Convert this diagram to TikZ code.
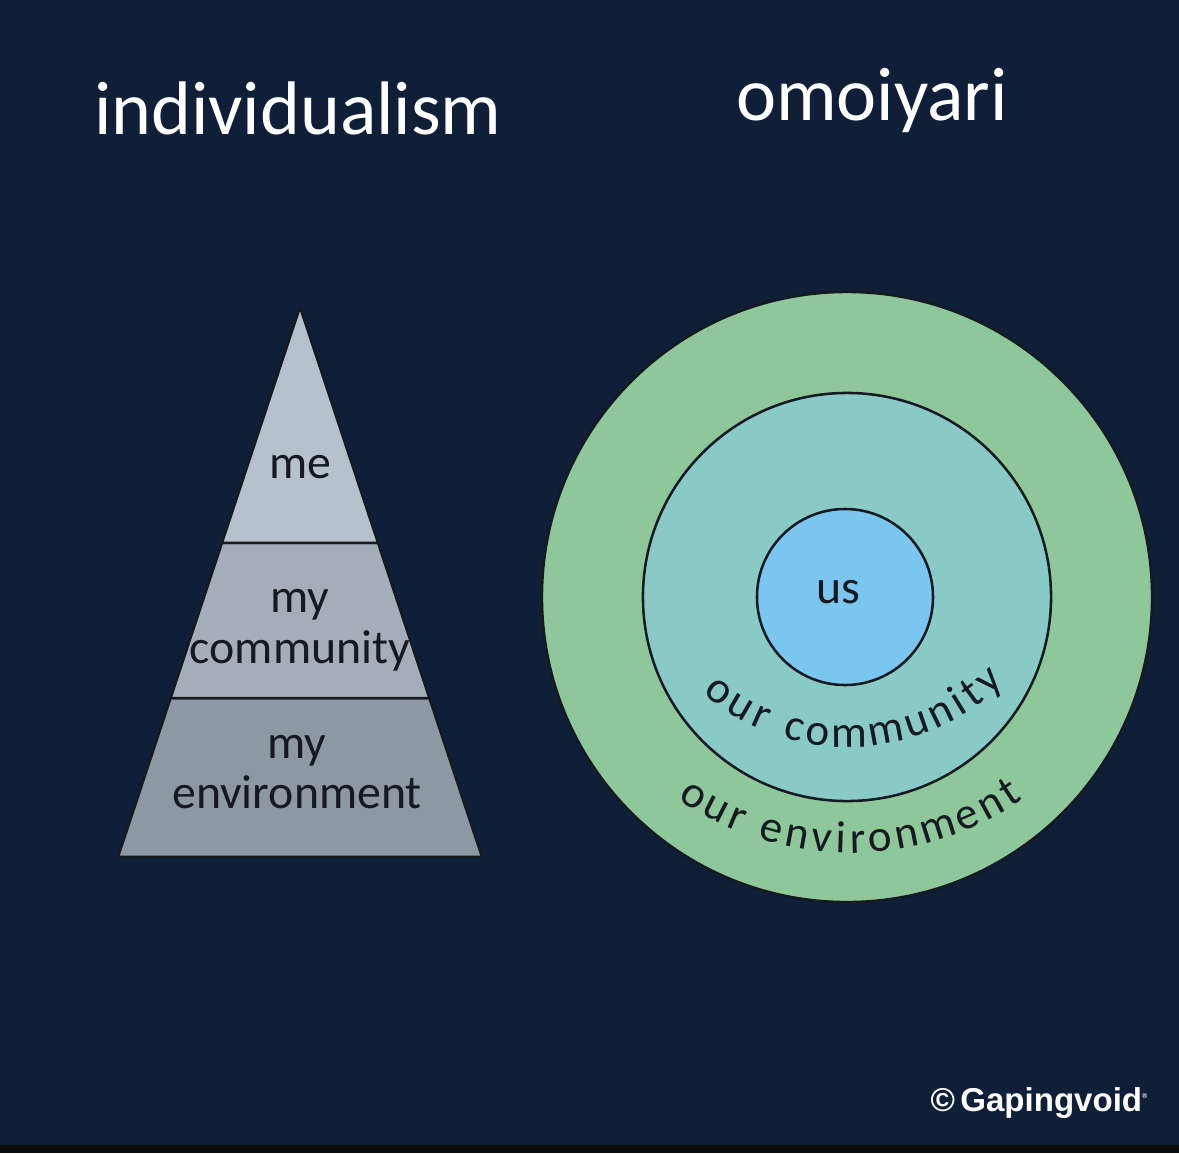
\documentclass[tikz,border=0pt]{standalone}
\usepackage{fontspec}
\setmainfont{Carlito}
\newfontfamily\logofont{Liberation Sans}
\usetikzlibrary{calc}
\definecolor{bgcol}{HTML}{0F1F38}
\definecolor{inkcol}{HTML}{151A22}
\definecolor{tiertop}{HTML}{B5C2CD}
\definecolor{tiermid}{HTML}{A3AEBA}
\definecolor{tierbot}{HTML}{8D98A5}
\definecolor{ringout}{HTML}{8EC89A}
\definecolor{ringmid}{HTML}{89CAC7}
\definecolor{ringin}{HTML}{7BC6EE}

\begin{document}
\begin{tikzpicture}[
  x=0.025cm, y=0.025cm,
  title/.style={text=white,font=\fontsize{54}{58}\selectfont},
  hand/.style={text=inkcol,align=center,font=\fontsize{34}{36}\selectfont},
  tier/.style={draw=inkcol,line width=1.8pt,line join=round},
  ring/.style={circle,draw=inkcol,line width=1.8pt,inner sep=0pt},
  arcchar/.style={text=inkcol,anchor=base,inner sep=0pt,
                  font=\fontsize{32}{36}\selectfont},
]
% page and background
\useasboundingbox (0,0) rectangle (1179,-1153);
\fill[bgcol] (0,0) rectangle (1179,-1153);
\fill[black!95] (0,-1145) rectangle (1179,-1153);

% titles
\node[title] (indiv) at (298,-108) {individualism};
\node[title] (omoi)  at (872,-100) {omoiyari};

% pyramid
\coordinate (apex)  at (300,-307);
\coordinate (baseL) at (118,-857);
\coordinate (baseR) at (482,-857);
\coordinate (cutAL) at ($(apex)!0.429!(baseL)$);
\coordinate (cutAR) at ($(apex)!0.429!(baseR)$);
\coordinate (cutBL) at ($(apex)!0.711!(baseL)$);
\coordinate (cutBR) at ($(apex)!0.711!(baseR)$);

\draw[tier,fill=tierbot] (cutBL) -- (cutBR) -- (baseR) -- (baseL) -- cycle;
\draw[tier,fill=tiermid] (cutAL) -- (cutAR) -- (cutBR) -- (cutBL) -- cycle;
\draw[tier,fill=tiertop] (apex) -- (cutAR) -- (cutAL) -- cycle;

\node[hand] (me)     at (300,-467) {me};
\node[hand] (mycomm) at (300,-630) {my\\community};
\node[hand] (myenv)  at (297,-772) {my\\environment};

% circles
\node[ring,fill=ringout,minimum size=15.25cm] (outer) at (847,-597) {};
\node[ring,fill=ringmid,minimum size=10.2cm]  (mid)   at (847,-597) {};
\node[ring,fill=ringin,minimum size=4.4cm]    (inner) at (845,-597) {};

\node[hand] (us) at (838,-592) {us};

% the hand lettering bends on flatter arcs than the rings
\coordinate (commarc) at (848,-524);
\coordinate (envarc)  at (850,-549);
\foreach \ch/\ang [count=\k] in {o/232.5,u/239.6,r/245.8,c/255.3,o/261.9,m/270.5,
    m/280.5,u/289.0,n/296.1,i/301.6,t/306.1,y/311.9}
  \node[arcchar,rotate=\ang+90] (comm\k) at ($(commarc)+(\ang:223)$) {\ch};
\foreach \ch/\ang [count=\k] in {o/237.6,u/242.8,r/247.3,e/254.5,n/259.6,v/264.4,
    i/268.2,r/271.5,o/276.0,n/281.2,m/287.5,e/293.6,n/298.8,t/303.2}
  \node[arcchar,rotate=\ang+90] (env\k) at ($(envarc)+(\ang:304)$) {\ch};

% logo
\node[text=white,anchor=east,font=\logofont\bfseries\fontsize{23.5}{26}\selectfont]
  (logo) at (1153,-1103) {©\,Gapingvoid\textsuperscript{\tiny ®}};
\end{tikzpicture}
\end{document}
